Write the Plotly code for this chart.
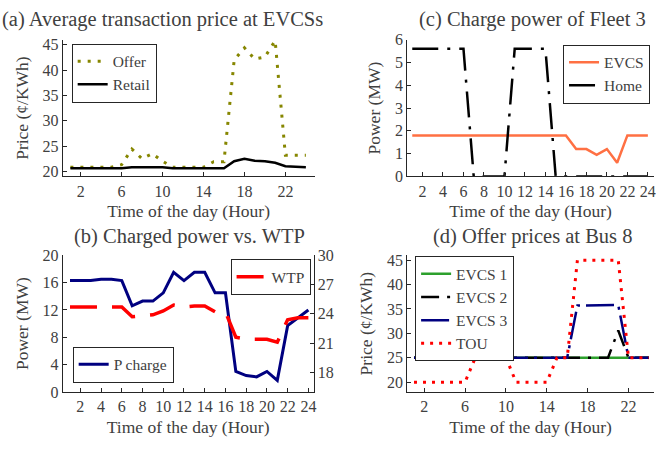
import plotly.graph_objects as go

hours = list(range(1, 25))

# (a) Average transaction price at EVCSs
offer = [20.8, 20.8, 20.8, 20.8, 20.8, 21.3, 24.4, 22.5, 23.5, 22.0, 20.8, 20.8,
         20.8, 20.8, 21.9, 21.9, 42.0, 44.4, 42.2, 42.6, 45.8, 23.2, 23.2, 23.2]
retail = [20.6, 20.6, 20.6, 20.6, 20.6, 20.6, 20.8, 20.8, 20.8, 20.8, 20.6, 20.6,
          20.6, 20.6, 20.6, 20.6, 22.0, 22.5, 22.1, 22.0, 21.7, 21.0, 20.9, 20.8]

# (c) Charge power of Fleet 3
evcs_power = [1.8] * 16 + [1.2, 1.2, 0.95, 1.2, 0.6, 1.8, 1.8, 1.8]
home_power = [5.6] * 6 + [0, 0, 0, 0] + [5.6] * 4 + [0] * 10

# (b) Charged power vs. WTP
p_charge = [16.3, 16.3, 16.3, 16.5, 16.5, 16.3, 12.6, 13.3, 13.3, 14.5, 17.5, 16.3,
            17.5, 17.5, 14.5, 14.5, 3.0, 2.4, 2.2, 3.0, 1.7, 9.7, 10.9, 12.0]
wtp = [24.7, 24.7, 24.7, 24.7, 24.7, 24.7, 23.7, 23.8, 23.9, 24.3, 24.9, 24.7,
       24.8, 24.8, 24.2, 24.2, 21.6, 21.4, 21.4, 21.4, 21.1, 23.4, 23.6, 23.6]

# (d) Offer prices at Bus 8
evcs1 = [25] * 24
evcs2 = [25] * 20 + [30.6, 25, 25, 25]
evcs3 = [25] * 16 + [35.7, 35.7, 35.8, 35.8, 35.8, 25, 25, 25]
tou = [20] * 6 + [25] * 4 + [20] * 4 + [25] * 2 + [45] * 5 + [25] * 3

FONT = "Liberation Serif"
TXT = "#404040"
AX = "#262626"

fig = go.Figure()

# (a)
fig.add_trace(go.Scatter(x=hours, y=offer, name="Offer", mode="lines",
                         line=dict(color="#868600", width=3, dash="3px,7px"),
                         xaxis="x", yaxis="y", legend="legend"))
fig.add_trace(go.Scatter(x=hours, y=retail, name="Retail", mode="lines",
                         line=dict(color="black", width=2.5),
                         xaxis="x", yaxis="y", legend="legend"))
# (c)
fig.add_trace(go.Scatter(x=hours, y=evcs_power, name="EVCS", mode="lines",
                         line=dict(color="#ff7043", width=2.5),
                         xaxis="x2", yaxis="y2", legend="legend2"))
fig.add_trace(go.Scatter(x=hours, y=home_power, name="Home", mode="lines",
                         line=dict(color="black", width=2.5, dash="26px,9px,3px,9px"),
                         xaxis="x2", yaxis="y2", legend="legend2"))
# (b)
fig.add_trace(go.Scatter(x=hours, y=wtp, name="WTP", mode="lines",
                         line=dict(color="#ff0000", width=3.5, dash="27px,15px"),
                         xaxis="x3", yaxis="y5", legend="legend3"))
fig.add_trace(go.Scatter(x=hours, y=p_charge, name="P charge", mode="lines",
                         line=dict(color="#000080", width=3),
                         xaxis="x3", yaxis="y3", legend="legend4"))
# (d)
fig.add_trace(go.Scatter(x=hours, y=evcs1, name="EVCS 1", mode="lines",
                         line=dict(color="#2ca02c", width=2.5),
                         xaxis="x4", yaxis="y4", legend="legend5"))
fig.add_trace(go.Scatter(x=hours, y=evcs2, name="EVCS 2", mode="lines",
                         line=dict(color="black", width=2.5, dash="18px,8px,3px,8px"),
                         xaxis="x4", yaxis="y4", legend="legend5"))
fig.add_trace(go.Scatter(x=hours, y=evcs3, name="EVCS 3", mode="lines",
                         line=dict(color="#000080", width=2.5, dash="28px,6px,3px,6px"),
                         xaxis="x4", yaxis="y4", legend="legend5"))
fig.add_trace(go.Scatter(x=hours, y=tou, name="TOU", mode="lines",
                         line=dict(color="#ff0000", width=3, dash="3px,6px"),
                         xaxis="x4", yaxis="y4", legend="legend5"))

W, H = 660, 450
def dx(a, b):
    return [a / W, b / W]
def dy(top, bot):
    return [1 - bot / H, 1 - top / H]

axis_common = dict(showline=True, linecolor=AX, linewidth=1, ticks="inside", ticklen=4,
                   tickcolor=AX, showgrid=False, zeroline=False,
                   tickfont=dict(family=FONT, size=16, color=TXT))
title_font = dict(family=FONT, size=17.5, color=TXT)
xt = dict(text="Time of the day (Hour)", font=title_font, standoff=6)

def yt(t):
    return dict(text=t, font=title_font, standoff=9)

fig.update_layout(
    width=W, height=H, margin=dict(l=0, r=0, t=0, b=0),
    paper_bgcolor="white", plot_bgcolor="white",
    font=dict(family=FONT, color=TXT),
    xaxis=dict(**axis_common, domain=dx(63, 316), anchor="y", range=[0.25, 24.85],
               tickvals=[2, 6, 10, 14, 18, 22], title=xt),
    yaxis=dict(**axis_common, domain=dy(33, 175), anchor="x", range=[19, 46],
               tickvals=[20, 25, 30, 35, 40, 45], title=yt("Price (¢/KWh)")),
    xaxis2=dict(**axis_common, domain=dx(409, 657), anchor="y2", range=[0.5, 24.6],
                tickvals=list(range(2, 25, 2)), title=xt),
    yaxis2=dict(**axis_common, domain=dy(33, 175), anchor="x2", range=[0, 6],
                tickvals=[0, 1, 2, 3, 4, 5, 6], title=yt("Power (MW)")),
    xaxis3=dict(**axis_common, domain=dx(63, 315), anchor="y3", range=[0.3, 24.5],
                tickvals=list(range(2, 25, 2)), title=xt),
    yaxis3=dict(**axis_common, domain=dy(257, 399), anchor="x3", range=[0, 20],
                tickvals=[0, 4, 8, 12, 16, 20], title=yt("Power (MW)")),
    yaxis5=dict(**axis_common, domain=dy(257, 399), anchor="x3", overlaying="y3",
                side="right", range=[16, 30], tickvals=[18, 21, 24, 27, 30]),
    xaxis4=dict(**axis_common, domain=dx(409, 657), anchor="y4", range=[0.33, 24.5],
                tickvals=[2, 6, 10, 14, 18, 22], title=xt),
    yaxis4=dict(**axis_common, domain=dy(257, 399), anchor="x4", range=[18, 46],
                tickvals=[20, 25, 30, 35, 40, 45], title=yt("Price (¢/KWh)")),
)

leg_common = dict(bgcolor="white", bordercolor=AX, borderwidth=1,
                  font=dict(family=FONT, size=15.5, color=TXT), itemwidth=30,
                  tracegroupgap=0, xanchor="left", yanchor="top")
fig.update_layout(
    legend=dict(**leg_common, x=72 / W, y=1 - 37 / H),
    legend2=dict(**{**leg_common, "xanchor": "right"}, x=653 / W, y=1 - 38 / H),
    legend3=dict(**{**leg_common, "xanchor": "right"}, x=312 / W, y=1 - 261 / H),
    legend4=dict(**leg_common, x=73 / W, y=1 - 352 / H),
    legend5=dict(**leg_common, x=417 / W, y=1 - 258 / H),
)

titles = [("(a) Average transaction price at EVCSs", 163, 12),
          ("(c) Charge power of Fleet 3", 535, 12),
          ("(b) Charged power vs. WTP", 190, 237),
          ("(d) Offer prices at Bus 8", 535, 237)]
for txt, x, y in titles:
    fig.add_annotation(text=txt, x=x / W, y=1 - y / H, xref="paper", yref="paper",
                       showarrow=False, xanchor="center", yanchor="middle",
                       font=dict(family=FONT, size=20.5, color=TXT))

fig.write_html("out.html", config={"displayModeBar": False},
               post_script="document.body.style.margin='0';document.body.style.padding='0';")
